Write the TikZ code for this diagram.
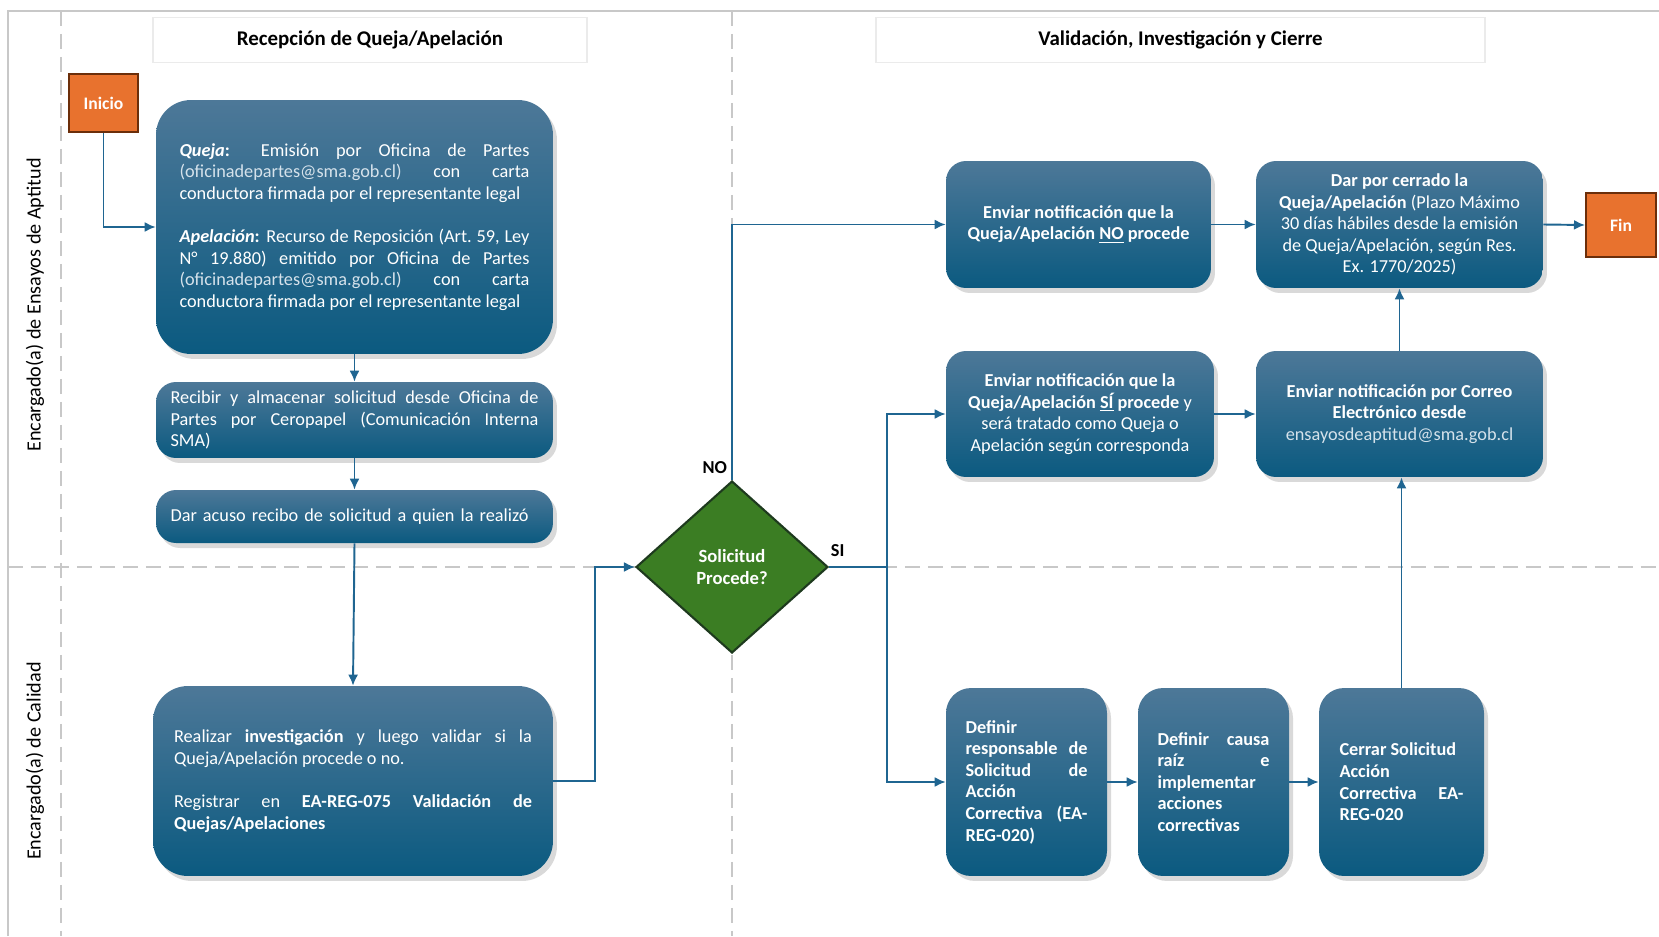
\documentclass[tikz,border=0pt]{standalone}
\usepackage{fontspec}
\setmainfont{Carlito}
\usepackage{tikz}
\usetikzlibrary{arrows.meta,shapes.geometric,shadows}
\definecolor{boxtop}{HTML}{4D7898}
\definecolor{boxbot}{HTML}{0B5A80}
\definecolor{flowc}{HTML}{1F6591}
\definecolor{termc}{HTML}{E8722E}
\definecolor{termd}{HTML}{6B2E0A}
\definecolor{decc}{HTML}{3B7D23}
\definecolor{decd}{HTML}{1E3A1E}
\definecolor{lanec}{HTML}{C8C8C8}
\definecolor{mailc}{HTML}{D5E2EB}
\setlength{\parindent}{0pt}

\begin{document}
\begin{tikzpicture}[x=0.02cm,y=-0.02cm,>={Latex[length=2.2mm,width=2mm]},
every node/.style={font=\fontsize{10.4}{12.3}\selectfont},
procbox/.style={shade,top color=boxtop,bottom color=boxbot,text=white,rounded corners=4mm,inner sep=0pt,align=center,
  drop shadow={shadow xshift=0.8mm,shadow yshift=-1mm,opacity=.3}},
jbox/.style={procbox,align=justify},
hdr/.style={draw=black!8,line width=0.8pt,fill=white,minimum height=0.9cm,font=\fontsize{11.9}{14}\selectfont\bfseries},
termbox/.style={draw=termd,line width=1.2pt,fill=termc,text=white,font=\fontsize{10}{12}\selectfont\bfseries},
conn/.style={draw=flowc,line width=1.1pt,->},
lbl/.style={font=\fontsize{10.4}{12}\selectfont\bfseries,text=black},
laneline/.style={draw=lanec,line width=0.8pt,dash pattern=on 3mm off 1.6mm}]
\useasboundingbox (0,0) rectangle (1659,936);
\draw[lanec,line width=0.8pt] (8,936)--(8,11)--(1659,11);
\draw[laneline] (61,11)--(61,936);\draw[laneline] (732,11)--(732,936);\draw[laneline] (8,567)--(1659,567);
\node[rotate=90,font=\fontsize{11.5}{13}\selectfont] (lane1) at (35,305){Encargado(a) de Ensayos de Aptitud};
\node[rotate=90,font=\fontsize{11.5}{13}\selectfont] (lane2) at (35,761){Encargado(a) de Calidad};
\node[hdr,minimum width=8.68cm] (hdr1) at (370,40){Recepción de Queja/Apelación};
\node[hdr,minimum width=12.18cm] (hdr2) at (1180.5,40){Validación, Investigación y Cierre};
\node[termbox,minimum width=1.38cm,minimum height=1.16cm] (inicio) at (103.5,103){Inicio};
\node[termbox,minimum width=1.40cm,minimum height=1.28cm] (fin) at (1621,225){Fin};
\node[jbox,rounded corners=7mm,minimum width=7.94cm,minimum height=5.08cm,text width=7.0cm] (queja) at (354.5,227){%
\textbf{\textit{Queja}:} Emisión por Oficina de Partes\linebreak {\color{mailc}(oficinadepartes@sma.gob.cl)} con carta\linebreak conductora firmada por el representante legal\par\vspace{12.3pt}
\textbf{\textit{Apelación}:} Recurso de Reposición (Art.~59, Ley\linebreak N° 19.880) emitido por Oficina de Partes\linebreak {\color{mailc}(oficinadepartes@sma.gob.cl)} con carta\linebreak conductora firmada por el representante legal};
\node[jbox,minimum width=7.94cm,minimum height=1.52cm,text width=7.36cm] (recibir) at (354.5,420){%
Recibir y almacenar solicitud desde Oficina de\linebreak Partes por Ceropapel (Comunicación Interna\linebreak SMA)};
\node[jbox,minimum width=7.94cm,minimum height=1.06cm,text width=7.36cm,align=left] (acuso) at (354.5,516.5){Dar acuso recibo de solicitud a quien la realizó};
\node[jbox,rounded corners=7mm,minimum width=8.0cm,minimum height=3.8cm,text width=7.16cm] (invest) at (353,781){%
Realizar \textbf{investigación} y luego validar si la\linebreak Queja/Apelación procede o no.\par\vspace{12.3pt}
Registrar en \textbf{EA-REG-075 Validación de}\linebreak \textbf{Quejas/Apelaciones}};
\node[diamond,draw=decd,line width=1.2pt,fill=decc,text=white,inner sep=0pt,minimum width=3.84cm,minimum height=3.44cm,
  align=center,font=\fontsize{10.6}{12.3}\selectfont\bfseries] (decide) at (732,567){Solicitud\\Procede?};
\node[procbox,minimum width=5.3cm,minimum height=2.54cm,font=\fontsize{10.4}{12.3}\selectfont\bfseries] (noproc) at (1078.5,224.5){%
Enviar notificación que la\\Queja/Apelación \underline{NO} procede};
\node[procbox,minimum width=5.74cm,minimum height=2.54cm] (cierre) at (1399.5,224.5){%
\textbf{Dar por cerrado la}\\\textbf{Queja/Apelación} (Plazo Máximo\\30 días hábiles desde la emisión\\de Queja/Apelación, según Res.\\Ex. 1770/2025)};
\node[procbox,minimum width=5.36cm,minimum height=2.52cm] (siproc) at (1080,414){%
\textbf{Enviar notificación que la}\\\textbf{Queja/Apelación \underline{SÍ} procede} y\\será tratado como Queja o\\Apelación según corresponda};
\node[procbox,minimum width=5.74cm,minimum height=2.52cm] (correo) at (1399.5,414){%
\textbf{Enviar notificación por Correo}\\\textbf{Electrónico desde}\\{\color{mailc}ensayosdeaptitud@sma.gob.cl}};
\node[jbox,rounded corners=5mm,minimum width=3.22cm,minimum height=3.76cm,text width=2.44cm,font=\fontsize{10.4}{12.3}\selectfont\bfseries] (resp) at (1026.5,782){%
Definir\newline responsable de\linebreak Solicitud de\linebreak Acción\newline Correctiva (EA-\linebreak REG-020)};
\node[jbox,rounded corners=5mm,minimum width=3.02cm,minimum height=3.76cm,text width=2.24cm,font=\fontsize{10.4}{12.3}\selectfont\bfseries] (causa) at (1213.5,782){%
Definir causa\linebreak raíz e\linebreak implementar\newline acciones\newline correctivas};
\node[jbox,rounded corners=5mm,minimum width=3.3cm,minimum height=3.76cm,text width=2.48cm,font=\fontsize{10.4}{12.3}\selectfont\bfseries] (cerrar) at (1401.5,782){%
Cerrar Solicitud\newline Acción\newline Correctiva EA-\linebreak REG-020};
\coordinate (sij) at (887,567);
\draw[conn] (inicio.south) |- (queja.west);
\draw[conn] (queja.south) -- (recibir.north);\draw[conn] (recibir.south) -- (acuso.north);\draw[conn] (acuso.south) -- (invest.north);
\draw[conn] (invest.east) -- ++(42,0) |- (decide.west);
\draw[conn] (decide.north) |- (noproc.west) node[pos=0,lbl,anchor=south east,xshift=1pt,yshift=0pt]{NO};
\draw[draw=flowc,line width=1.1pt] (decide.east) -- (sij) node[pos=0.15,lbl,above,yshift=2pt]{SI};
\draw[conn] (sij) |- (siproc.west);\draw[conn] (sij) |- (resp.west);
\draw[conn] (noproc.east) -- (cierre.west);\draw[conn] (cierre.east) -- (fin.west);
\draw[conn] (siproc.east) -- (correo.west);\draw[conn] (correo.north) -- (cierre.south);
\draw[conn] (resp.east) -- (causa.west);\draw[conn] (causa.east) -- (cerrar.west);
\draw[conn] (cerrar.north) -- (cerrar.north |- correo.south);
\end{tikzpicture}
\end{document}
